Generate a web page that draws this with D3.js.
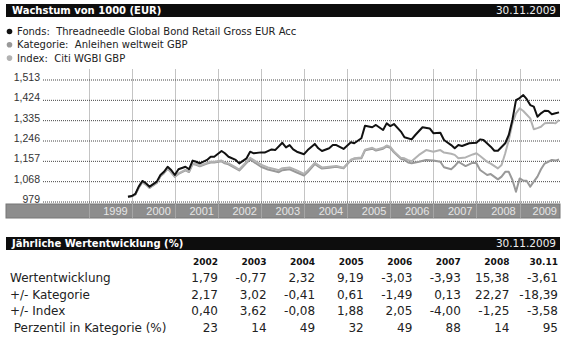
<!DOCTYPE html>
<html>
<head>
<meta charset="utf-8">
<script src="https://cdn.jsdelivr.net/npm/d3@7"></script>
<style>
    body { margin: 0; background: #fff; }
    svg { display: block; }
    text { white-space: pre; }
</style>
</head>
<body>
<div id="chart"></div>
<script>
"use strict";

const WIDTH = 570;
const HEIGHT = 347;
const BOX_LEFT = 6;
const BOX_RIGHT = 560;
const PLOT = { left: 43, right: 560, top: 69, bottom: 204 };
const BAND_HEIGHT = 14;

const TITLE = "Wachstum von 1000 (EUR)";
const TABLE_TITLE = "Jährliche Wertentwicklung (%)";
const AS_OF = "30.11.2009";

const legendLabels = [
    "Fonds:  Threadneedle Global Bond Retail Gross EUR Acc",
    "Kategorie:  Anleihen weltweit GBP",
    "Index:  Citi WGBI GBP"
];
const legendColors = ["#111", "#999", "#b2b2b2"];

const yTicks = [979, 1068, 1157, 1246, 1335, 1424, 1513];
const years = [1999, 2000, 2001, 2002, 2003, 2004, 2005, 2006, 2007, 2008, 2009];

// growth of 1000, month / value
const fonds = [
    ["1999-12", 1000], ["2000-01", 1003], ["2000-02", 1012], ["2000-03", 1044],
    ["2000-04", 1069], ["2000-05", 1059], ["2000-06", 1044], ["2000-08", 1066],
    ["2000-09", 1095], ["2000-10", 1109], ["2000-11", 1131], ["2000-12", 1117],
    ["2001-01", 1095], ["2001-02", 1120], ["2001-04", 1131], ["2001-05", 1120],
    ["2001-06", 1158], ["2001-07", 1153], ["2001-08", 1146], ["2001-10", 1161],
    ["2001-11", 1175], ["2001-12", 1175], ["2002-02", 1200], ["2002-03", 1190],
    ["2002-04", 1175], ["2002-06", 1161], ["2002-07", 1146], ["2002-09", 1168],
    ["2002-10", 1197], ["2002-11", 1190], ["2003-01", 1194], ["2003-02", 1193],
    ["2003-04", 1207], ["2003-05", 1204], ["2003-07", 1236], ["2003-08", 1216],
    ["2003-09", 1226], ["2003-10", 1207], ["2003-11", 1197], ["2004-01", 1186],
    ["2004-02", 1204], ["2004-04", 1231], ["2004-05", 1212], ["2004-06", 1200],
    ["2004-08", 1212], ["2004-09", 1226], ["2004-10", 1226], ["2004-12", 1209],
    ["2005-02", 1238], ["2005-03", 1234], ["2005-05", 1256], ["2005-06", 1311],
    ["2005-08", 1304], ["2005-09", 1314], ["2005-11", 1292], ["2005-12", 1321],
    ["2006-01", 1309], ["2006-02", 1318], ["2006-04", 1285], ["2006-05", 1260],
    ["2006-07", 1251], ["2006-08", 1270], ["2006-10", 1304], ["2006-12", 1299],
    ["2007-01", 1278], ["2007-03", 1280], ["2007-04", 1248], ["2007-06", 1226],
    ["2007-07", 1212], ["2007-08", 1226], ["2007-09", 1222], ["2007-11", 1234],
    ["2008-01", 1236], ["2008-02", 1251], ["2008-03", 1248], ["2008-05", 1219],
    ["2008-06", 1201], ["2008-07", 1201], ["2008-09", 1234], ["2008-10", 1270],
    ["2008-11", 1336], ["2008-12", 1423], ["2009-01", 1432], ["2009-02", 1445],
    ["2009-03", 1428], ["2009-04", 1401], ["2009-05", 1394], ["2009-06", 1350],
    ["2009-07", 1365], ["2009-08", 1376], ["2009-09", 1375], ["2009-10", 1361],
    ["2009-11", 1365], ["2009-12", 1369]
];

const kategorie = [
    ["1999-12", 1000], ["2000-01", 1002], ["2000-02", 1009], ["2000-03", 1039],
    ["2000-04", 1063], ["2000-05", 1053], ["2000-06", 1038], ["2000-08", 1060],
    ["2000-09", 1089], ["2000-10", 1103], ["2000-11", 1122], ["2000-12", 1107],
    ["2001-01", 1087], ["2001-02", 1100], ["2001-04", 1115], ["2001-05", 1108],
    ["2001-06", 1143], ["2001-07", 1140], ["2001-08", 1133], ["2001-10", 1145],
    ["2001-11", 1150], ["2001-12", 1150], ["2002-02", 1155], ["2002-03", 1146],
    ["2002-04", 1142], ["2002-06", 1124], ["2002-07", 1115], ["2002-09", 1148],
    ["2002-10", 1163], ["2002-11", 1152], ["2003-01", 1131], ["2003-03", 1119],
    ["2003-05", 1111], ["2003-06", 1107], ["2003-07", 1116], ["2003-09", 1120],
    ["2003-11", 1106], ["2004-01", 1093], ["2004-02", 1108], ["2004-04", 1143],
    ["2004-05", 1133], ["2004-06", 1123], ["2004-08", 1127], ["2004-10", 1131],
    ["2004-12", 1124], ["2005-02", 1160], ["2005-03", 1166], ["2005-05", 1168],
    ["2005-06", 1203], ["2005-08", 1210], ["2005-09", 1202], ["2005-11", 1210],
    ["2005-12", 1220], ["2006-01", 1214], ["2006-02", 1194], ["2006-04", 1166],
    ["2006-05", 1161], ["2006-06", 1150], ["2006-07", 1146], ["2006-09", 1153],
    ["2006-11", 1161], ["2007-01", 1158], ["2007-03", 1153], ["2007-04", 1129],
    ["2007-06", 1120], ["2007-07", 1134], ["2007-08", 1153], ["2007-10", 1134],
    ["2007-12", 1149], ["2008-01", 1146], ["2008-02", 1117], ["2008-04", 1095],
    ["2008-05", 1099], ["2008-07", 1076], ["2008-08", 1088], ["2008-09", 1109],
    ["2008-10", 1109], ["2008-11", 1073], ["2008-12", 1022], ["2009-01", 1080],
    ["2009-02", 1070], ["2009-03", 1070], ["2009-04", 1044], ["2009-05", 1066],
    ["2009-06", 1088], ["2009-07", 1120], ["2009-08", 1145], ["2009-09", 1153],
    ["2009-10", 1161], ["2009-11", 1158], ["2009-12", 1163]
];

const index = [
    ["1999-12", 1000], ["2000-01", 1002], ["2000-02", 1009], ["2000-03", 1040],
    ["2000-04", 1064], ["2000-05", 1054], ["2000-06", 1039], ["2000-08", 1061],
    ["2000-09", 1090], ["2000-10", 1104], ["2000-11", 1124], ["2000-12", 1108],
    ["2001-01", 1088], ["2001-02", 1102], ["2001-04", 1117], ["2001-05", 1110],
    ["2001-06", 1146], ["2001-07", 1143], ["2001-08", 1136], ["2001-10", 1148],
    ["2001-11", 1153], ["2001-12", 1153], ["2002-02", 1158], ["2002-03", 1150],
    ["2002-04", 1146], ["2002-06", 1128], ["2002-07", 1119], ["2002-09", 1153],
    ["2002-10", 1170], ["2002-11", 1160], ["2003-01", 1140], ["2003-03", 1128],
    ["2003-05", 1120], ["2003-06", 1116], ["2003-07", 1125], ["2003-09", 1128],
    ["2003-11", 1115], ["2004-01", 1100], ["2004-02", 1115], ["2004-04", 1148],
    ["2004-05", 1138], ["2004-06", 1128], ["2004-08", 1131], ["2004-10", 1134],
    ["2004-12", 1127], ["2005-02", 1162], ["2005-03", 1168], ["2005-05", 1172],
    ["2005-06", 1206], ["2005-08", 1214], ["2005-09", 1206], ["2005-11", 1214],
    ["2005-12", 1224], ["2006-01", 1218], ["2006-02", 1198], ["2006-04", 1170],
    ["2006-05", 1168], ["2006-06", 1160], ["2006-07", 1155], ["2006-09", 1183],
    ["2006-11", 1204], ["2007-01", 1197], ["2007-03", 1204], ["2007-04", 1193],
    ["2007-06", 1188], ["2007-07", 1183], ["2007-08", 1168], ["2007-10", 1172],
    ["2007-12", 1185], ["2008-01", 1190], ["2008-02", 1178], ["2008-04", 1153],
    ["2008-05", 1145], ["2008-07", 1124], ["2008-08", 1139], ["2008-09", 1190],
    ["2008-10", 1248], ["2008-11", 1321], ["2008-12", 1365], ["2009-01", 1387],
    ["2009-02", 1375], ["2009-03", 1360], ["2009-04", 1343], ["2009-05", 1295],
    ["2009-06", 1300], ["2009-07", 1306], ["2009-08", 1321], ["2009-09", 1323],
    ["2009-10", 1324], ["2009-11", 1321], ["2009-12", 1336]
];

const tableColumns = ["2002", "2003", "2004", "2005", "2006", "2007", "2008", "30.11"];
const rowLabels = ["Wertentwicklung", "+/- Kategorie", "+/- Index", " Perzentil in Kategorie (%)"];
const wertentwicklung = [1.79, -0.77, 2.32, 9.19, -3.03, -3.93, 15.38, -3.61];
const plusMinusKategorie = [2.17, 3.02, -0.41, 0.61, -1.49, 0.13, 22.27, -18.39];
const plusMinusIndex = [0.40, 3.62, -0.08, 1.88, 2.05, -4.00, -1.25, -3.58];
const perzentil = [23, 14, 49, 32, 49, 88, 14, 95];

const parseMonth = d3.timeParse("%Y-%m");
const deLocale = d3.formatLocale({ decimal: ",", thousands: ".", grouping: [3], currency: ["", "€"], minus: "-" });
const formatPct = deLocale.format(".2f");
const formatInt = deLocale.format("d");

const svg = d3.select("#chart")
    .append("svg")
    .attr("width", WIDTH)
    .attr("height", HEIGHT)
    .style("font-family", "'DejaVu Sans', Verdana, sans-serif");

const x = d3.scaleTime()
    .domain([new Date(1998, 0, 1), new Date(2010, 0, 1)])
    .range([45.5, 562.7]);

const y = d3.scaleLinear()
    .domain([979, 1513])
    .range([201.5, 79.5]);

drawHeaderBar(4, TITLE);
drawLegend();
drawPlot();
drawHeaderBar(237, TABLE_TITLE);
drawTable();

function drawHeaderBar(top, title) {
    const g = svg.append("g").attr("transform", `translate(0,${top})`);
    g.append("rect")
        .attr("x", BOX_LEFT)
        .attr("width", BOX_RIGHT - BOX_LEFT)
        .attr("height", 13)
        .attr("fill", "#0d0d0d");
    g.append("text")
        .attr("x", BOX_LEFT + 6)
        .attr("y", 10)
        .attr("fill", "#fff")
        .attr("font-size", 10)
        .attr("font-weight", "bold")
        .text(title);
    g.append("text")
        .attr("x", BOX_RIGHT - 4)
        .attr("y", 10)
        .attr("text-anchor", "end")
        .attr("fill", "#eee")
        .attr("font-size", 10.5)
        .text(AS_OF);
}

function drawLegend() {
    const items = svg.append("g")
        .selectAll("g")
        .data(legendLabels)
        .join("g")
        .attr("transform", (_, i) => `translate(0,${31.5 + i * 13.3})`);

    items.append("circle")
        .attr("cx", 9.5)
        .attr("r", 2.8)
        .attr("fill", (_, i) => legendColors[i]);

    items.append("text")
        .attr("x", 17)
        .attr("dy", "0.35em")
        .attr("fill", "#222")
        .attr("font-size", 10)
        .text(d => d);
}

function drawPlot() {
    // vertical year lines
    svg.append("g")
        .selectAll("line")
        .data(years)
        .join("line")
        .attr("x1", d => Math.round(x(new Date(d, 0, 1))) + 0.5)
        .attr("x2", d => Math.round(x(new Date(d, 0, 1))) + 0.5)
        .attr("y1", PLOT.top)
        .attr("y2", PLOT.bottom)
        .attr("stroke", "#c4c4c4");

    // dotted value grid with labels
    const yAxis = svg.append("g")
        .attr("transform", `translate(${PLOT.left},0)`)
        .call(d3.axisLeft(y)
            .tickValues(yTicks)
            .tickFormat(d3.format(","))
            .tickSize(-(PLOT.right - PLOT.left))
            .tickPadding(3));

    yAxis.select(".domain").remove();
    yAxis.selectAll(".tick line")
        .attr("stroke", "#444")
        .attr("stroke-dasharray", "1,1");
    yAxis.selectAll(".tick text")
        .attr("font-family", "'Liberation Sans', Arial, sans-serif")
        .attr("font-size", 10.5)
        .attr("fill", "#333")
        .attr("dy", "0.1em");

    // year band
    const band = svg.append("g").attr("transform", `translate(0,${PLOT.bottom})`);
    band.append("rect")
        .attr("x", BOX_LEFT)
        .attr("width", BOX_RIGHT - BOX_LEFT)
        .attr("height", BAND_HEIGHT)
        .attr("fill", "#8d8d8d")
        .attr("stroke", "#777");

    band.selectAll("line")
        .data(years)
        .join("line")
        .attr("x1", d => Math.round(x(new Date(d, 0, 1))) + 0.5)
        .attr("x2", d => Math.round(x(new Date(d, 0, 1))) + 0.5)
        .attr("y1", 0)
        .attr("y2", BAND_HEIGHT)
        .attr("stroke", "#a6a6a6");

    band.selectAll("text")
        .data(years)
        .join("text")
        .attr("x", d => Math.min(x(new Date(d + 1, 0, 1)) - 4, BOX_RIGHT - 3))
        .attr("y", 11)
        .attr("text-anchor", "end")
        .attr("font-family", "'Liberation Sans', Arial, sans-serif")
        .attr("font-size", 11)
        .attr("fill", "#e6e6e6")
        .text(d => d);

    const line = d3.line()
        .x(d => x(parseMonth(d[0])))
        .y(d => y(d[1]));

    const series = [
        { data: kategorie, color: legendColors[1] },
        { data: index, color: legendColors[2] },
        { data: fonds, color: legendColors[0] }
    ];

    svg.append("g")
        .selectAll("path")
        .data(series)
        .join("path")
        .attr("d", d => line(d.data))
        .attr("fill", "none")
        .attr("stroke", d => d.color)
        .attr("stroke-width", 2)
        .attr("stroke-linejoin", "round");
}

function drawTable() {
    const col = d3.scalePoint()
        .domain(tableColumns)
        .range([218, 558]);

    const rows = [
        { label: rowLabels[0], values: wertentwicklung.map(formatPct) },
        { label: rowLabels[1], values: plusMinusKategorie.map(formatPct) },
        { label: rowLabels[2], values: plusMinusIndex.map(formatPct) },
        { label: rowLabels[3], values: perzentil.map(formatInt) }
    ];

    svg.append("g")
        .selectAll("text")
        .data(tableColumns)
        .join("text")
        .attr("x", d => col(d))
        .attr("y", 265)
        .attr("text-anchor", "end")
        .attr("font-size", 9)
        .attr("font-weight", "bold")
        .attr("fill", "#111")
        .text(d => d);

    const rowGroups = svg.append("g")
        .selectAll("g")
        .data(rows)
        .join("g")
        .attr("transform", (_, i) => `translate(0,${282 + i * 16.7})`);

    rowGroups.append("text")
        .attr("x", 10)
        .attr("font-size", 12)
        .attr("fill", "#222")
        .text(d => d.label);

    rowGroups.selectAll(".value")
        .data(d => d.values)
        .join("text")
        .classed("value", true)
        .attr("x", (_, i) => col(tableColumns[i]))
        .attr("text-anchor", "end")
        .attr("font-size", 12)
        .attr("fill", "#222")
        .text(d => d);
}
</script>
</body>
</html>
